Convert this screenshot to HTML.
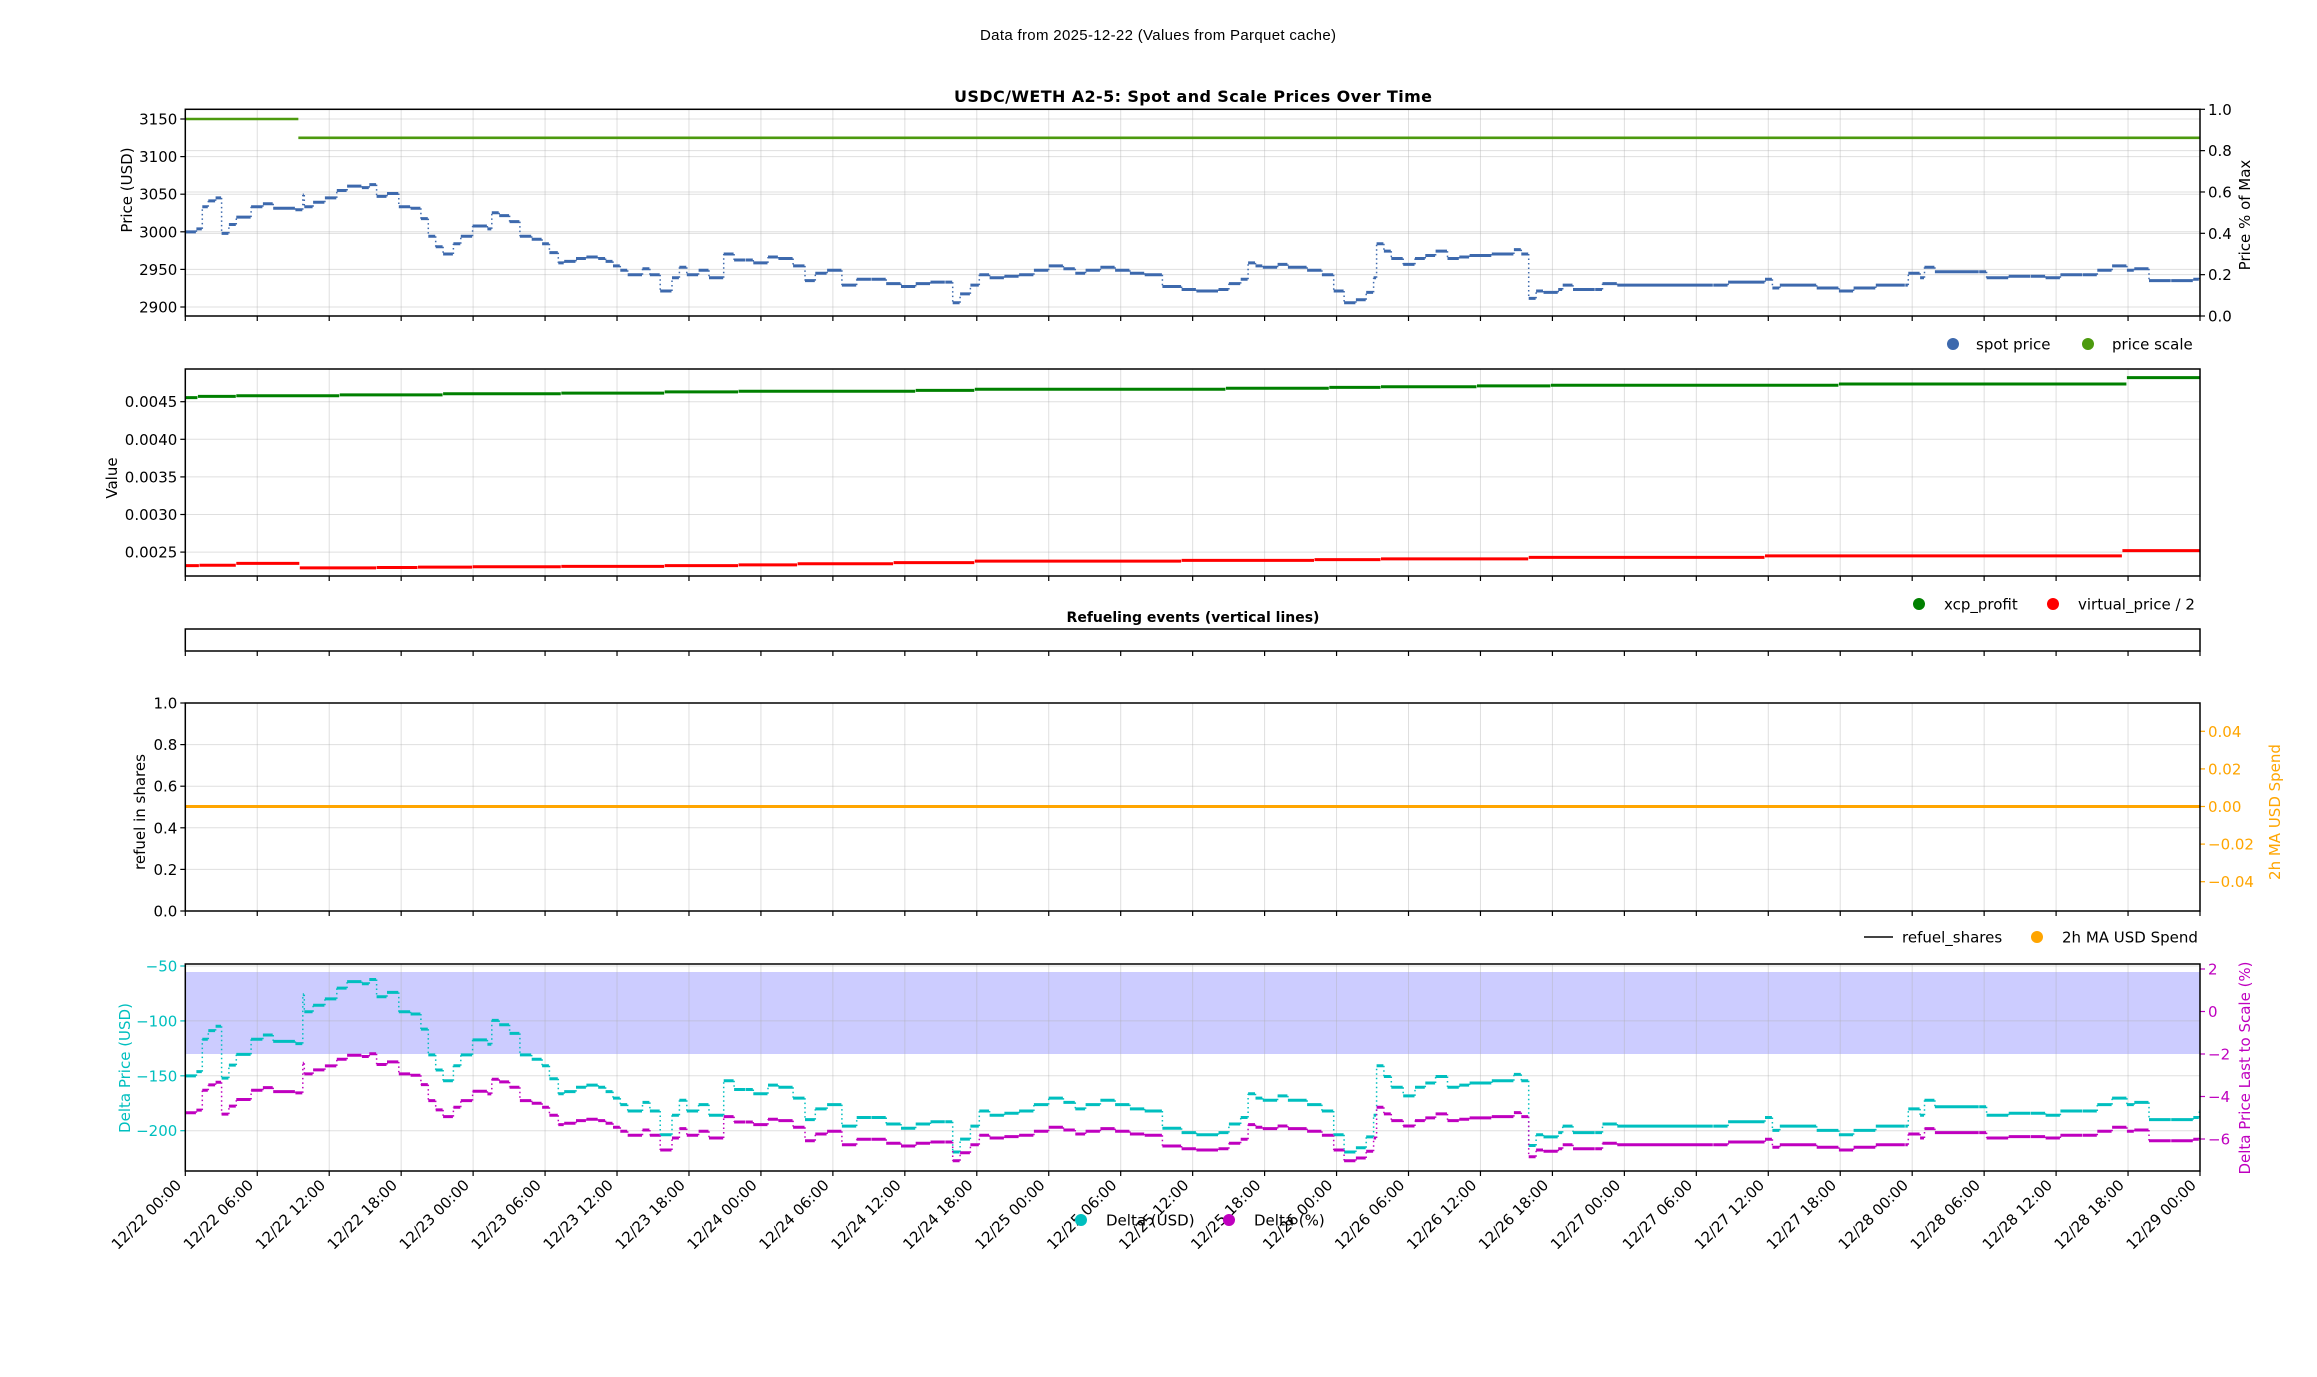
<!DOCTYPE html>
<html><head><meta charset="utf-8">
<style>
html,body{margin:0;padding:0;background:#fff;}
svg{display:block;font-family:"DejaVu Sans","Liberation Sans",sans-serif;}
</style></head>
<body>
<svg id="s" width="2317" height="1377" viewBox="0 0 2317 1377" xmlns="http://www.w3.org/2000/svg">
<text x="1158" y="40" font-size="15" text-anchor="middle" font-family="Liberation Sans, sans-serif" textLength="356">Data from 2025-12-22 (Values from Parquet cache)</text>
<text x="1193" y="102" font-size="16" font-weight="bold" text-anchor="middle" textLength="478">USDC/WETH A2-5: Spot and Scale Prices Over Time</text>
<text x="1193" y="622" font-size="14" font-weight="bold" text-anchor="middle">Refueling events (vertical lines)</text>
<g id="g"></g>
</svg>
<script>
const NS="http://www.w3.org/2000/svg";
const G=document.getElementById('g');
function el(t,a,txt){const e=document.createElementNS(NS,t);for(const k in a)e.setAttribute(k,a[k]);if(txt!==undefined)e.textContent=txt;G.appendChild(e);return e;}
const X0=185.3,X1=2200,NT=28,DX=(X1-X0)/NT;
const panels=[[109.3,316],[369,576],[629,651],[703,911],[964,1171]];
el('rect',{x:X0,y:972,width:X1-X0,height:82,fill:'#0000ff','fill-opacity':0.2});
panels.forEach(([t,b],i)=>{
  for(let k=0;k<=NT;k++){const x=X0+k*DX;
    if(i!=2&&k>0&&k<NT) el('line',{x1:x,x2:x,y1:t,y2:b,stroke:'#b0b0b0','stroke-opacity':0.4,'stroke-width':1});
    el('line',{x1:x,x2:x,y1:b,y2:b+5,stroke:'#000','stroke-width':1.2});
  }
});
function hgrid(y){el('line',{x1:X0,x2:X1,y1:y,y2:y,stroke:'#b0b0b0','stroke-opacity':0.4,'stroke-width':1});}
function lt(y,txt,col){el('line',{x1:X0-5,x2:X0,y1:y,y2:y,stroke:col||'#000','stroke-width':1.2});el('text',{x:X0-8,y:y+5.5,'font-size':15,'text-anchor':'end',fill:col||'#000'},txt);}
function rt(y,txt,col){el('line',{x1:X1,x2:X1+5,y1:y,y2:y,stroke:col||'#000','stroke-width':1.2});el('text',{x:X1+8,y:y+5.5,'font-size':15,fill:col||'#000'},txt);}
function ylab(x,y,txt,col){el('text',{x:x,y:y,'font-size':15,'text-anchor':'middle',fill:col||'#000',transform:`rotate(-90 ${x} ${y})`},txt);}
[3150,3100,3050,3000,2950,2900].forEach(v=>{const y=119+(3150-v)*0.752;hgrid(y);lt(y,String(v));});
for(let i=0;i<=5;i++){const y=316-i*0.2*(316-109.3);rt(y,(i*0.2).toFixed(1));hgrid(y);}
ylab(132,190,'Price (USD)');ylab(2250,215,'Price % of Max');
[0.0045,0.0040,0.0035,0.0030,0.0025].forEach(v=>{const y=401.7+(0.0045-v)*75200;hgrid(y);lt(y,v.toFixed(4));});
ylab(117,478,'Value');
for(let i=0;i<=5;i++){const y=911-i*0.2*208;hgrid(y);lt(y,(i*0.2).toFixed(1));}
[0.04,0.02,0,-0.02,-0.04].forEach(v=>{const y=806.5-v*1880;rt(y,(v<0?'\u2212':'')+Math.abs(v).toFixed(2),'#ffa500');});
ylab(145,812,'refuel in shares');ylab(2280,812,'2h MA USD Spend','#ffa500');
[-50,-100,-150,-200].forEach(v=>{const y=966+(-50-v)*1.098;hgrid(y);lt(y,'\u2212'+Math.abs(v),'#00bfbf');});
[2,0,-2,-4,-6].forEach(v=>{const y=1011.5-v*21.25;rt(y,(v<0?'\u2212':'')+Math.abs(v),'#bf00bf');});
ylab(130,1068,'Delta Price (USD)','#00bfbf');ylab(2250,1068,'Delta Price Last to Scale (%)','#bf00bf');
const days=['12/22','12/23','12/24','12/25','12/26','12/27','12/28','12/29'],hrs=['00:00','06:00','12:00','18:00'];
for(let k=0;k<=NT;k++){const x=X0+k*DX-3,y=1186;const lab=days[Math.floor(k/4)]+' '+hrs[k%4];
 el('text',{x:x,y:y,'font-size':15,'text-anchor':'end',transform:`rotate(-45 ${x} ${y})`},lab);}
const sp=[[125,157],[133,155],[137,140],[141,136],[146,134],[150,158],[155,152],[160,147],[170,140],[178,138],[185,141],[200,142],[205,132],[206,140],[212,137],[220,134],[228,129],[235,126],[245,127],[250,125],[255,133],[262,131],[270,140],[278,141],[285,148],[290,160],[295,167],[300,172],[307,165],[312,160],[320,153],[330,155],[333,144],[338,146],[345,150],[352,160],[360,162],[367,165],[372,171],[378,178],[382,177],[390,175],[397,174],[405,175],[410,177],[415,180],[420,183],[425,186],[435,182],[440,186],[447,197],[455,188],[460,181],[465,186],[473,183],[480,188],[490,172],[497,176],[505,176],[510,178],[520,174],[527,175],[537,180],[545,190],[552,185],[560,183],[570,193],[580,189],[590,189],[600,192],[610,194],[620,192],[630,191],[640,191],[645,205],[650,199],[657,193],[663,186],[670,188],[680,187],[690,186],[700,183],[710,180],[720,182],[728,185],[735,183],[745,181],[755,183],[765,185],[775,186],[787,194],[800,196],[810,197],[825,196],[832,192],[840,189],[845,178],[850,180],[855,181],[865,179],[872,181],[885,183],[895,186],[903,197],[910,205],[918,203],[925,198],[930,188],[932,165],[937,170],[942,175],[950,179],[958,175],[965,173],[972,170],[980,175],[988,174],[995,173],[1010,172],[1025,169],[1030,172],[1035,202],[1040,197],[1045,198],[1055,196],[1058,193],[1065,196],[1080,196],[1085,192],[1095,193],[1160,193],[1170,191],[1195,189],[1200,195],[1205,193],[1230,195],[1245,197],[1255,195],[1270,193],[1290,193],[1292,185],[1300,188],[1303,181],[1310,184],[1340,184],[1345,188],[1360,187],[1375,187],[1385,188],[1395,186],[1410,186],[1420,183],[1430,180],[1440,183],[1445,182],[1455,190],[1470,190],[1485,189],[1489,186]];
const F=1.477;
const pts=sp.map(([x,y])=>[Math.max(X0,Math.min(X1,x*F)),3150-(y*F-119)/0.752]);
function step(arr,fy){let d='',c='';for(let i=0;i<arr.length;i++){const x=arr[i][0],y=fy(arr[i][1]);const xn=i<arr.length-1?arr[i+1][0]:X1;d+='M'+x.toFixed(1)+','+y.toFixed(1)+'L'+(xn-0.5).toFixed(1)+','+y.toFixed(1);
 if(i<arr.length-1){const yn=fy(arr[i+1][1]);c+='M'+xn.toFixed(1)+','+y.toFixed(1)+'L'+xn.toFixed(1)+','+yn.toFixed(1);}}return [d,c];}
function path(dc,col,w){if(typeof dc==='string')dc=[dc,''];el('path',{d:dc[0],fill:'none',stroke:col,'stroke-width':w||3});if(dc[1])el('path',{d:dc[1],fill:'none',stroke:col,'stroke-width':1.5,'stroke-dasharray':'1.5 3'});}
const scaleAt=x=>x<202*F?3150:3125;
path(`M${X0},119L${202*F},119`,'#4c9a0e',2.6);path(`M${202*F},${119+25*0.752}L${X1},${119+25*0.752}`,'#4c9a0e',2.6);
path(step(pts,v=>119+(3150-v)*0.752),'#3d69ad');
const xcp=[[125,0.004555],[134,0.00457],[160,0.00458],[230,0.00459],[300,0.004605],[380,0.004615],[450,0.00463],[500,0.00464],[620,0.00465],[660,0.004665],[830,0.00468],[900,0.00469],[935,0.0047],[1000,0.00471],[1050,0.00472],[1245,0.004735],[1440,0.00482]];
path(step(xcp.map(([x,v])=>[Math.max(X0,x*F),v]),v=>401.7+(0.0045-v)*75200)[0],'#008000');
const vp=[[125,0.00232],[135,0.002325],[160,0.00235],[203,0.00229],[255,0.002295],[283,0.0023],[320,0.002305],[380,0.00231],[450,0.00232],[500,0.00233],[540,0.002345],[605,0.00236],[660,0.00238],[800,0.00239],[890,0.0024],[935,0.00241],[1035,0.00243],[1195,0.00245],[1437,0.00252]];
path(step(vp.map(([x,v])=>[Math.max(X0,x*F),v]),v=>401.7+(0.0045-v)*75200)[0],'#ff0000');
el('line',{x1:X0,x2:X1,y1:806.5,y2:806.5,stroke:'#ffa500','stroke-width':3});
const dl=pts.map(([x,v])=>[x,v-scaleAt(x)]);
path(step(dl,v=>966+(-50-v)*1.098),'#00bfbf');
path(step(pts.map(([x,v])=>[x,(v-scaleAt(x))/scaleAt(x)*100]),p=>1011.5-p*21.25),'#bf00bf');
panels.forEach(([t,b])=>el('rect',{x:X0,y:t,width:X1-X0,height:b-t,fill:'none',stroke:'#000','stroke-width':1.5}));
function dot(x,y,c){el('circle',{cx:x,cy:y,r:6,fill:c});}
function lt2(x,y,t){el('text',{x:x,y:y+5.5,'font-size':15},t);}
dot(1953,344,'#3d69ad');lt2(1976,344,'spot price');dot(2088,344,'#4c9a0e');lt2(2112,344,'price scale');
dot(1919,604,'#008000');lt2(1944,604,'xcp_profit');dot(2053,604,'#ff0000');lt2(2078,604,'virtual_price / 2');
el('line',{x1:1864,x2:1893,y1:937,y2:937,stroke:'#444','stroke-width':2});lt2(1902,937,'refuel_shares');dot(2037,937,'#ffa500');lt2(2062,937,'2h MA USD Spend');
dot(1081,1220,'#00bfbf');lt2(1106,1220,'Delta (USD)');dot(1229,1220,'#bf00bf');lt2(1254,1220,'Delta (%)');
</script>
</body></html>
